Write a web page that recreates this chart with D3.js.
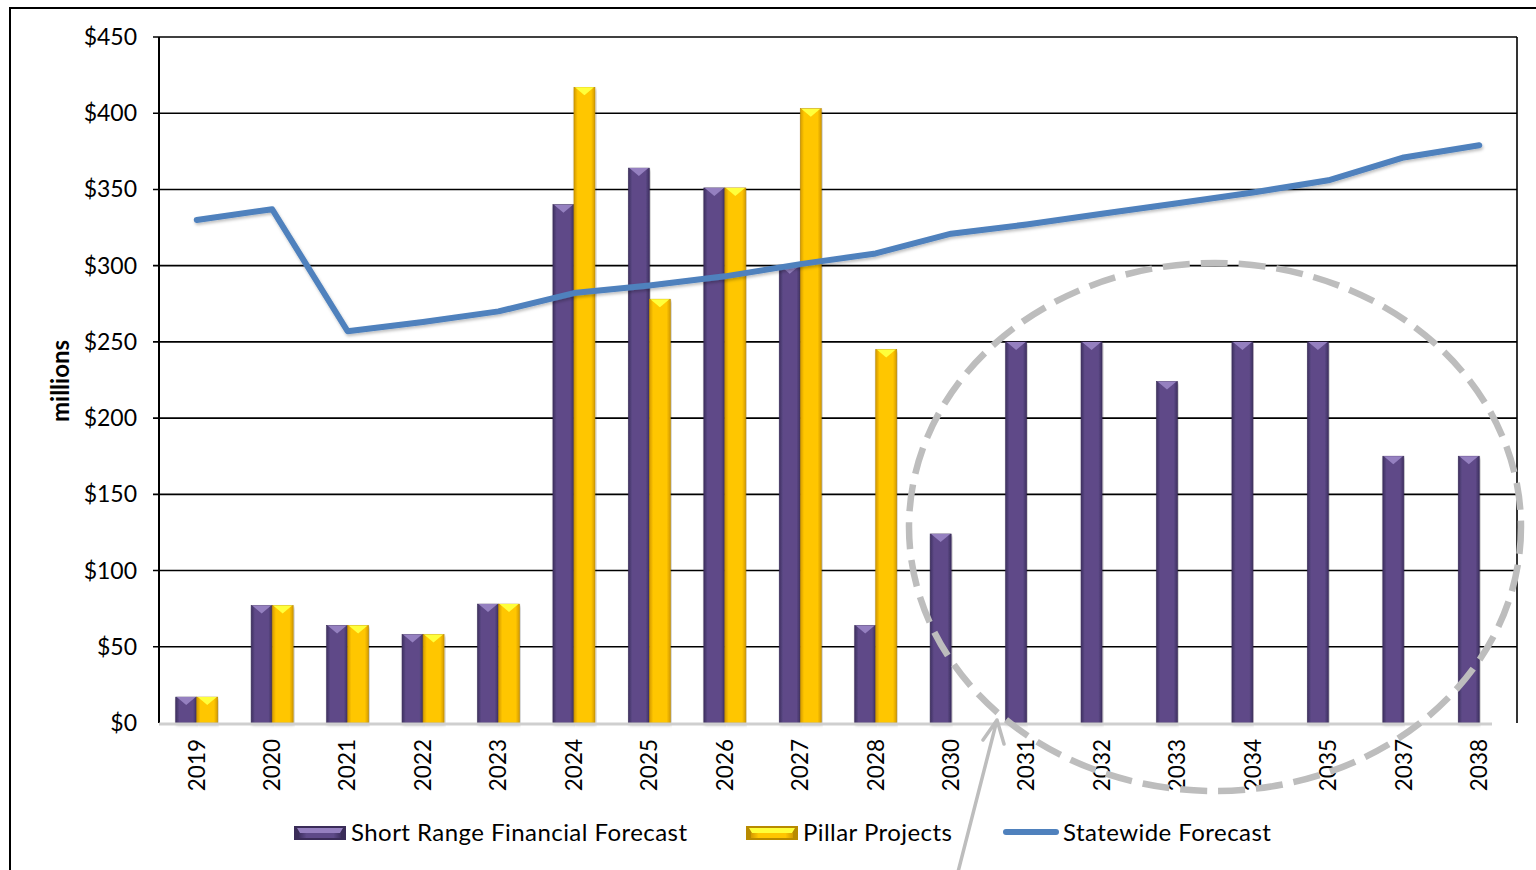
<!DOCTYPE html>
<html>
<head>
<meta charset="utf-8">
<script src="https://cdn.jsdelivr.net/npm/d3@7"></script>
<style>
  html, body { margin: 0; padding: 0; background: #fff; }
  svg { display: block; font-family: Lato, "Open Sans", sans-serif; }
</style>
</head>
<body>
<div id="chart"></div>
<script>
'use strict';

// data ($ millions)
var years = ['2019', '2020', '2021', '2022', '2023', '2024', '2025', '2026', '2027',
             '2028', '2030', '2031', '2032', '2033', '2034', '2035', '2037', '2038'];
var shortRange = [17, 77, 64, 58, 78, 340, 364, 351, 300, 64, 124, 250, 250, 224, 250, 250, 175, 175];
var pillar = [17, 77, 64, 58, 78, 417, 278, 351, 403, 245, null, null, null, null, null, null, null, null];
var statewide = [330, 337, 257, 263, 270, 282, 287, 293, 301, 308, 321, 327, 334, 341, 348, 356, 371, 379];
var yTicks = [0, 50, 100, 150, 200, 250, 300, 350, 400, 450];
var seriesNames = ['Short Range Financial Forecast', 'Pillar Projects', 'Statewide Forecast'];

var W = 1536, H = 870
  , plot = { left: 159, top: 37, right: 1517, bottom: 723 };

var svg = d3.select('#chart').append('svg')
    .attr('width', W)
    .attr('height', H);

// gradients for the bevelled bars
var defs = svg.append('defs');
function bevel(id, edge, mid) {
  var g = defs.append('linearGradient').attr('id', id)
      .attr('x1', 0).attr('x2', 1).attr('y1', 0).attr('y2', 0);
  g.append('stop').attr('offset', '0%').attr('stop-color', edge);
  g.append('stop').attr('offset', '18%').attr('stop-color', mid);
  g.append('stop').attr('offset', '82%').attr('stop-color', mid);
  g.append('stop').attr('offset', '100%').attr('stop-color', edge);
}
bevel('gPurple', '#3e3060', '#5e4a88');
bevel('gYellow', '#d49a00', '#ffc600');
var shadow = defs.append('filter').attr('id', 'shadow')
    .attr('x', '-5%').attr('y', '-20%').attr('width', '110%').attr('height', '140%');
shadow.append('feDropShadow').attr('dx', 1).attr('dy', 2).attr('stdDeviation', 1.5)
    .attr('flood-color', '#000').attr('flood-opacity', 0.25);

// outer frame
svg.append('path')
    .attr('d', 'M10,870 V8 H1536')
    .attr('fill', 'none')
    .attr('stroke', '#000')
    .attr('stroke-width', 2);

var x = d3.scaleBand()
    .domain(years)
    .range([plot.left, plot.right])
    .paddingInner(0.443)
    .paddingOuter(0.2215);

var x1 = d3.scaleBand()
    .domain([0, 1])
    .range([0, x.bandwidth()]);

var y = d3.scaleLinear()
    .domain([0, 450])
    .range([plot.bottom, plot.top]);

// grid lines
svg.append('g')
    .selectAll('line')
    .data(yTicks.slice(1))
    .enter().append('line')
      .attr('x1', plot.left - 6)
      .attr('x2', plot.right)
      .attr('y1', function (d) { return y(d); })
      .attr('y2', function (d) { return y(d); })
      .attr('stroke', '#000')
      .attr('stroke-width', 1.6);

// plot border, left and right
svg.append('line')
    .attr('x1', plot.left).attr('x2', plot.left)
    .attr('y1', plot.top).attr('y2', plot.bottom)
    .attr('stroke', '#000').attr('stroke-width', 2);
svg.append('line')
    .attr('x1', plot.right).attr('x2', plot.right)
    .attr('y1', plot.top).attr('y2', plot.bottom)
    .attr('stroke', '#000').attr('stroke-width', 1.6);

// y tick labels
svg.append('g')
    .selectAll('text')
    .data(yTicks)
    .enter().append('text')
      .attr('x', 137)
      .attr('y', function (d) { return y(d); })
      .attr('dy', '0.35em')
      .style('text-anchor', 'end')
      .style('font-size', '23px')
      .style('fill', '#000')
      .text(function (d) { return '$' + d; });

svg.append('text')
    .attr('transform', 'translate(69,381) rotate(-90)')
    .style('text-anchor', 'middle')
    .style('font-size', '24px')
    .style('font-weight', 'bold')
    .text('millions');

// bars
function drawBars(values, idx, grad, tip, outline) {
  var g = svg.append('g');
  var data = values.map(function (v, i) { return { year: years[i], v: v }; })
    .filter(function (d) { return d.v !== null; });
  var bw = x1.bandwidth();
  var groups = g.selectAll('g')
      .data(data)
    .enter().append('g')
      .attr('filter', 'url(#shadow)');
  groups.append('rect')
      .attr('x', function (d) { return x(d.year) + x1(idx); })
      .attr('y', function (d) { return y(d.v); })
      .attr('width', bw)
      .attr('height', function (d) { return y(0) - y(d.v); })
      .attr('fill', 'url(#' + grad + ')')
      .attr('stroke', outline)
      .attr('stroke-width', 0.6);
  groups.append('path')
      .attr('d', function (d) {
        var x0 = x(d.year) + x1(idx), t = y(d.v);
        return 'M' + (x0 + 1) + ',' + t + 'H' + (x0 + bw - 1) + 'L' + (x0 + bw / 2) + ',' + (t + 8) + 'Z';
      })
      .attr('fill', tip);
}
drawBars(shortRange, 0, 'gPurple', '#9580c0', '#3a2c58');
drawBars(pillar, 1, 'gYellow', '#ffff3a', '#b88a00');

// x baseline
svg.append('line')
    .attr('x1', plot.left).attr('x2', 1492)
    .attr('y1', plot.bottom + 1).attr('y2', plot.bottom + 1)
    .attr('stroke', '#cfcfcf')
    .attr('stroke-width', 3);

// statewide forecast line
var line = d3.line()
    .x(function (d, i) { return x(years[i]) + x.bandwidth() / 2; })
    .y(function (d) { return y(d); });
svg.append('path')
    .datum(statewide)
    .attr('d', line)
    .attr('fill', 'none')
    .attr('stroke', '#4f81bd')
    .attr('stroke-width', 6)
    .attr('stroke-linecap', 'round')
    .attr('stroke-linejoin', 'round')
    .attr('filter', 'url(#shadow)');

// x tick labels
svg.append('g')
    .selectAll('text')
    .data(years)
    .enter().append('text')
      .attr('transform', function (d) {
        return 'translate(' + (x(d) + x.bandwidth() / 2) + ',739) rotate(-90)';
      })
      .attr('dy', '0.35em')
      .style('text-anchor', 'end')
      .style('font-size', '22.5px')
      .text(function (d) { return d; });

// dashed ellipse annotation and arrow
svg.append('ellipse')
    .attr('cx', 1215).attr('cy', 527)
    .attr('rx', 306).attr('ry', 264)
    .attr('fill', 'none')
    .attr('stroke', '#bdbdbd')
    .attr('stroke-width', 6.5)
    .attr('stroke-dasharray', '27 11');

svg.append('path')
    .attr('d', 'M958,872 L997,720 M983,740 L997,720 L1004,744')
    .attr('fill', 'none')
    .attr('stroke', '#bdbdbd')
    .attr('stroke-width', 3.5)
    .attr('stroke-linecap', 'round')
    .attr('stroke-linejoin', 'round');

// legend
var legend = svg.append('g')
    .style('font-size', '24px')
    .style('letter-spacing', '0.45px');
var legendItems = [
  { x: 294, grad: 'gPurple', tip: '#9580c0', outline: '#3a2c58', tx: 351 },
  { x: 746, grad: 'gYellow', tip: '#ffff3a', outline: '#b88a00', tx: 803 }
];
legendItems.forEach(function (d, i) {
  legend.append('rect')
      .attr('x', d.x).attr('y', 826)
      .attr('width', 52).attr('height', 14)
      .attr('fill', d.outline);
  legend.append('path')
      .attr('d', 'M' + (d.x + 3) + ',828 H' + (d.x + 49) + ' L' + (d.x + 46) + ',833 H' + (d.x + 6) + 'Z')
      .attr('fill', d.tip);
  legend.append('rect')
      .attr('x', d.x + 5).attr('y', 833)
      .attr('width', 42).attr('height', 5)
      .attr('fill', 'url(#' + d.grad + ')');
  legend.append('text')
      .attr('x', d.tx).attr('y', 833)
      .attr('dy', '0.35em')
      .text(seriesNames[i]);
});
legend.append('line')
    .attr('x1', 1006).attr('x2', 1056)
    .attr('y1', 832).attr('y2', 832)
    .attr('stroke', '#4f81bd')
    .attr('stroke-width', 6)
    .attr('stroke-linecap', 'round');
legend.append('text')
    .attr('x', 1063).attr('y', 833)
    .attr('dy', '0.35em')
    .text(seriesNames[2]);
</script>
</body>
</html>
